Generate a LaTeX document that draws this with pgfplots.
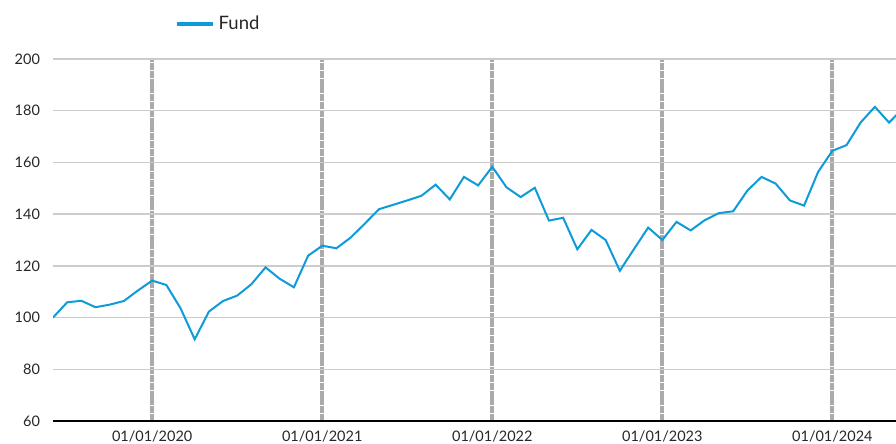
\documentclass[border=0pt]{standalone}
\usepackage{fontspec}
\setmainfont{Lato}
\usepackage{pgfplots}
\pgfplotsset{compat=1.18}
\definecolor{fundblue}{RGB}{14,155,216}
\definecolor{vgray}{RGB}{170,170,170}
\definecolor{hgray}{RGB}{204,204,204}
\begin{document}
\fontsize{14.5bp}{17bp}\selectfont
\begin{tikzpicture}
\useasboundingbox (0,0) rectangle (896bp,444bp);
\begin{axis}[
  at={(53bp,23bp)}, anchor=south west,
  scale only axis, width=843bp, height=362bp,
  xmin=0, xmax=59.49, ymin=60, ymax=200,
  axis x line*=bottom, axis y line*=left,
  x axis line style={black, line width=2bp},
  y axis line style={draw=none},
  xtick={7,19,31,43,55},
  xticklabels={01/01/2020,01/01/2021,01/01/2022,01/01/2023,01/01/2024},
  ytick={60,80,...,200},
  major tick length=0pt,
  xmajorgrids, ymajorgrids,
  x grid style={vgray, line width=4bp, dash pattern=on 7bp off 0.8bp},
  y grid style={hgray, line width=1.5bp},
  /pgf/number format/assume math mode=true,
  ticklabel style={font=\fontsize{14.5bp}{17bp}\selectfont, text=black!85},
  yticklabel style={anchor=east, xshift=-8bp},
  xticklabel style={yshift=-5bp},
  legend style={at={(axis description cs:0.1447,1.096)}, anchor=west, draw=none, fill=none, inner sep=0pt,
    nodes={font=\fontsize{18.5bp}{21bp}\selectfont, text=black!85, inner sep=4bp}},
  legend image code/.code={\draw[#1, line width=3.5bp] (0bp,0bp) -- (36bp,0bp);},
  clip=true,
]
\addplot[fundblue, line width=2bp] coordinates {
(0,100) (1,105.9) (2,106.5) (3,104.0) (4,105.0) (5,106.4) (6,110.5) (7,114.3) (8,112.6) (9,103.6)
(10,91.6) (11,102.3) (12,106.4) (13,108.5) (14,112.9) (15,119.4) (16,115.0) (17,111.7) (18,123.9) (19,127.8)
(20,126.8) (21,130.9) (22,136.3) (23,141.9) (24,143.6) (25,145.3) (26,147.1) (27,151.4) (28,145.7) (29,154.4)
(30,151.1) (31,158.3) (32,150.4) (33,146.6) (34,150.2) (35,137.5) (36,138.6) (37,126.4) (38,133.9) (39,130.0)
(40,118.1) (41,126.5) (42,134.8) (43,130.0) (44,137.0) (45,133.7) (46,137.7) (47,140.4) (48,141.1) (49,149.1)
(50,154.4) (51,151.8) (52,145.3) (53,143.3) (54,156.4) (55,164.5) (56,166.7) (57,175.5) (58,181.5) (59,175.4)
(60,181.0)
};
\addlegendentry{Fund}
\end{axis}
\end{tikzpicture}
\end{document}
